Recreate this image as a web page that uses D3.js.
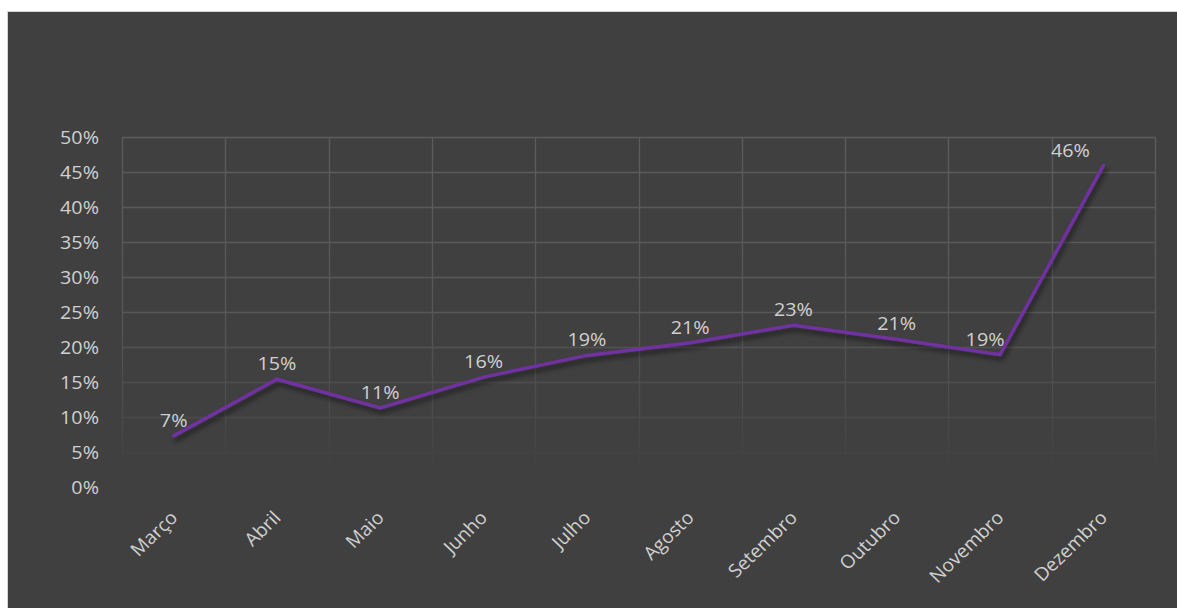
<!DOCTYPE html>
<html>
<head>
<meta charset="utf-8">
<script src="https://cdn.jsdelivr.net/npm/d3@7"></script>
<style>
    html, body { margin: 0; padding: 0; background: #ffffff; }
    svg { display: block; }
    text { font-family: "Open Sans", "Noto Sans", sans-serif; fill: #d0d0d0; }
</style>
</head>
<body>
<svg width="1177" height="608"></svg>
<script>
// data
var months = ["Março", "Abril", "Maio", "Junho", "Julho", "Agosto",
              "Setembro", "Outubro", "Novembro", "Dezembro"];
var shares = [0.073, 0.154, 0.113, 0.157, 0.188, 0.206, 0.231, 0.211, 0.189, 0.459];
var yTicks = [0, 0.05, 0.1, 0.15, 0.2, 0.25, 0.3, 0.35, 0.4, 0.45, 0.5];

// labels that were dragged left in the original
var labelShift = {"Novembro": -15, "Dezembro": -33};

var stretch = 1.04; // source text is a touch wide

function init() {
    var svg = d3.select("svg"),
        margin = {top: 137, right: 22, bottom: 121, left: 122},
        width = +svg.attr("width") - margin.left - margin.right,
        height = +svg.attr("height") - margin.top - margin.bottom;

    // chart area background
    svg.append("rect")
        .attr("x", 7.5).attr("y", 11.5)
        .attr("width", 1177).attr("height", 608)
        .attr("fill", "#404040")
        .attr("stroke", "#d4d4d4")
        .attr("stroke-width", 1);

    var defs = svg.append("defs");

    // gridlines fade out toward the bottom (coords are the plot group's)
    var grad = defs.append("linearGradient")
        .attr("id", "gridfade")
        .attr("gradientUnits", "userSpaceOnUse")
        .attr("x1", 0).attr("y1", 0)
        .attr("x2", 0).attr("y2", height);
    grad.append("stop").attr("offset", "0%").attr("stop-color", "#5c5c5c");
    grad.append("stop").attr("offset", "50%").attr("stop-color", "#575757");
    grad.append("stop").attr("offset", "80%").attr("stop-color", "#4a4a4a");
    grad.append("stop").attr("offset", "92%").attr("stop-color", "#424242");
    grad.append("stop").attr("offset", "100%").attr("stop-color", "#404040");

    var shadow = defs.append("filter")
        .attr("id", "shadow")
        .attr("x", "-10%").attr("y", "-10%")
        .attr("width", "120%").attr("height", "130%");
    shadow.append("feGaussianBlur")
        .attr("in", "SourceAlpha").attr("stdDeviation", 2.5).attr("result", "blur");
    shadow.append("feOffset")
        .attr("in", "blur").attr("dx", 2).attr("dy", 4).attr("result", "off");
    shadow.append("feComponentTransfer")
        .attr("in", "off").attr("result", "shade")
        .append("feFuncA").attr("type", "linear").attr("slope", 0.55);
    var merge = shadow.append("feMerge");
    merge.append("feMergeNode").attr("in", "shade");
    merge.append("feMergeNode").attr("in", "SourceGraphic");

    var x = d3.scaleBand().domain(months).range([0, width]),
        y = d3.scaleLinear().domain([0, 0.5]).range([height, 0]);

    var g = svg.append("g")
        .attr("transform", "translate(" + margin.left + "," + margin.top + ")");

    // horizontal gridlines
    g.selectAll("line.hgrid")
        .data(yTicks)
        .enter().append("line")
        .attr("class", "hgrid")
        .attr("x1", 0).attr("x2", width)
        .attr("y1", function(d) { return Math.round(y(d)) + 0.5; })
        .attr("y2", function(d) { return Math.round(y(d)) + 0.5; })
        .attr("stroke", "url(#gridfade)")
        .attr("stroke-width", 1.3);

    // vertical gridlines at category edges
    var edges = months.map(function(m) { return x(m); }).concat([width]);
    g.selectAll("line.vgrid")
        .data(edges)
        .enter().append("line")
        .attr("class", "vgrid")
        .attr("x1", function(d) { return Math.round(d) + 0.5; })
        .attr("x2", function(d) { return Math.round(d) + 0.5; })
        .attr("y1", 0).attr("y2", height)
        .attr("stroke", "url(#gridfade)")
        .attr("stroke-width", 1.3);

    // y axis
    var yAxis = d3.axisLeft(y)
        .tickValues(yTicks)
        .tickFormat(d3.format(".0%"))
        .tickSize(0)
        .tickPadding(0);
    g.append("g")
        .attr("class", "axis axis--y")
        .call(yAxis)
        .call(function(a) { a.select(".domain").remove(); })
        .selectAll("text")
        .attr("font-size", 19)
        .attr("fill", "#cccccc")
        .attr("x", 0)
        .attr("dy", "0.35em")
        .attr("transform", "translate(-23,0) scale(" + stretch + ",1)");

    // x axis
    var xAxis = d3.axisBottom(x).tickSize(0).tickPadding(0);
    g.append("g")
        .attr("class", "axis axis--x")
        .attr("transform", "translate(0," + height + ")")
        .call(xAxis)
        .call(function(a) { a.select(".domain").remove(); })
        .selectAll("text")
        .attr("font-size", 18.5)
        .attr("fill", "#cccccc")
        .attr("text-anchor", "end")
        .attr("dy", 0)
        .attr("y", 0)
        .attr("transform", "translate(5,32) scale(" + stretch + ",1) rotate(-45)");

    // the line
    var line = d3.line()
        .x(function(d, i) { return x(months[i]) + x.bandwidth() / 2; })
        .y(function(d) { return y(d); });

    g.append("path")
        .datum(shares)
        .attr("d", line)
        .attr("fill", "none")
        .attr("stroke", "#7030a0")
        .attr("stroke-width", 3.5)
        .attr("stroke-linejoin", "miter")
        .attr("stroke-linecap", "round")
        .attr("filter", "url(#shadow)");

    // data labels
    g.selectAll("text.lbl")
        .data(shares)
        .enter().append("text")
        .attr("class", "lbl")
        .attr("transform", function(d, i) {
            var px = x(months[i]) + x.bandwidth() / 2 + (labelShift[months[i]] || 0);
            return "translate(" + px + "," + (y(d) - 9) + ") scale(" + stretch + ",1)";
        })
        .attr("text-anchor", "middle")
        .attr("font-size", 19)
        .attr("fill", "#d0d0d0")
        .text(function(d) { return Math.round(d * 100) + "%"; });
}
init();
</script>
</body>
</html>
